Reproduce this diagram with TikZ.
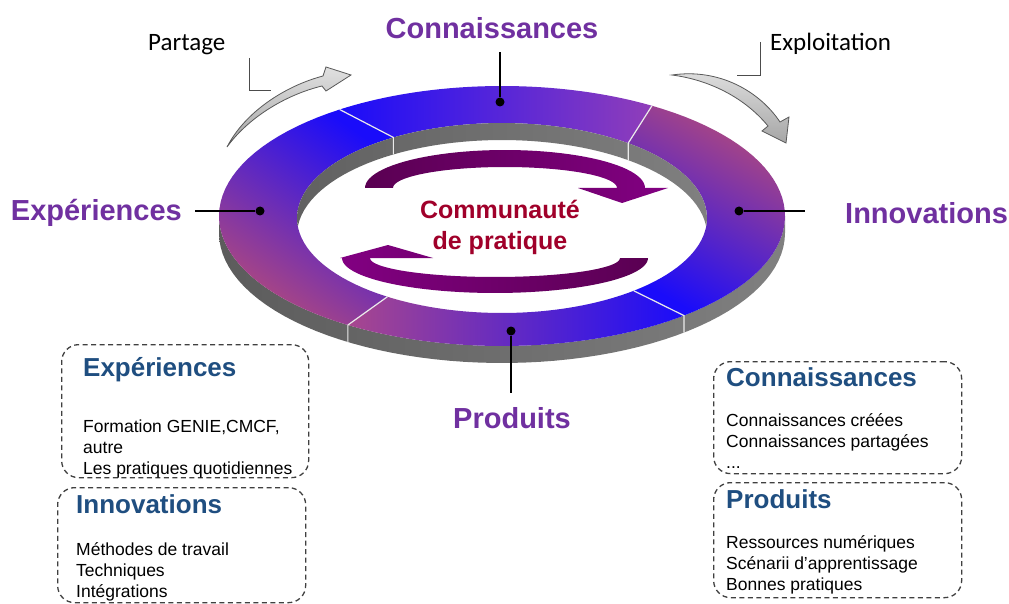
\documentclass[tikz,border=0pt]{standalone}
\usepackage{fontspec}
\setmainfont{Liberation Sans}
\newfontfamily\calibri{Carlito}
\usetikzlibrary{positioning}

\definecolor{labelpurple}{HTML}{7030A0}
\definecolor{boxblue}{HTML}{1F4E80}
\definecolor{centrered}{HTML}{A0002A}
\definecolor{ringblue}{HTML}{1A0CFA}
\definecolor{ringmauve}{HTML}{B24A7C}
\definecolor{ringviolet}{HTML}{8A3CC4}
\definecolor{arrowdark}{HTML}{5A0052}
\definecolor{arrowlight}{HTML}{820082}

% ring geometry (px, y down)
\def\rcx{502} \def\ocy{216} \def\icy{218}
\def\rxo{283} \def\ryo{130}
\def\rxi{205} \def\ryi{95}
\def\rdp{17}

% one segment of the ring top: outer arc #1->#2, inner arc back #4->#3
\newcommand\ringseg[4]{plot[domain=#1:#2, samples=40] ({\rcx+\rxo*cos(\x)},{\ocy-\ryo*sin(\x)})
  -- plot[domain=#4:#3, samples=40] ({\rcx+\rxi*cos(\x)},{\icy-\ryi*sin(\x)}) -- cycle}

\begin{document}
\begin{tikzpicture}[x=1pt, y=-1pt,
    ringlabel/.style={text=labelpurple, font=\fontsize{29}{34}\selectfont\bfseries, inner sep=0pt},
    flowlabel/.style={font=\calibri\fontsize{25}{30}\selectfont, inner sep=0pt, anchor=base west},
    boxhead/.style={text=boxblue, font=\fontsize{26}{31}\selectfont\bfseries, inner sep=0pt, anchor=base west},
    boxbody/.style={font=\fontsize{17.5}{21}\selectfont, align=left, inner sep=0pt, anchor=north west},
    dashbox/.style={draw=black!75, line width=1.3pt, dash pattern=on 5pt off 3.5pt,
      rounded corners=17pt, anchor=north west, inner sep=0pt},
    ringdot/.style={circle, fill=black, inner sep=0pt, minimum size=9pt},
    leader/.style={line width=1.6pt},
    elbow/.style={line width=1pt, draw=black!70},
    blockarrow/.style={top color=black!12, bottom color=black!35, draw=black!65, line width=0.8pt},
    seam/.style={draw=white!92!black, line width=1.2pt}
]
    \useasboundingbox (0,0) rectangle (1009,604);
    \fill[white] (0,0) rectangle (1009,604);

    % Ring: outer wall
    \shade[left color=black!64, right color=black!50]
      plot[domain=180:360, samples=60] ({\rcx+\rxo*cos(\x)},{\ocy-\ryo*sin(\x)})
      -- plot[domain=360:180, samples=60] ({\rcx+\rxo*cos(\x)},{\ocy+\rdp-\ryo*sin(\x)}) -- cycle;

    % Ring: top, four segments
    \shade[top color=ringmauve, bottom color=ringblue, shading angle=-30] \ringseg{-50}{58}{-50}{52};
    \shade[left color=ringblue, right color=ringviolet!85!ringmauve] \ringseg{58}{125}{52}{122};
    \shade[top color=ringblue, bottom color=ringmauve, shading angle=-35] \ringseg{125}{237}{122}{236};
    \shade[left color=ringmauve!75!ringviolet, right color=ringblue] \ringseg{237}{310}{236}{310};

    % Ring: inner wall seen through the hole
    \begin{scope}
      \clip plot[domain=0:360, samples=90] ({\rcx+\rxi*cos(\x)},{\icy-\ryi*sin(\x)}) -- cycle;
      \shade[left color=black!62, right color=black!50]
        plot[domain=0:180, samples=60] ({\rcx+\rxi*cos(\x)},{\icy-\ryi*sin(\x)})
        -- plot[domain=180:0, samples=60] ({\rcx+\rxi*cos(\x)},{\icy+\rdp-\ryi*sin(\x)}) -- cycle;
    \end{scope}

    % Seams between segments
    \coordinate (ulo) at ({\rcx+\rxo*cos(125)},{\ocy-\ryo*sin(125)});
    \coordinate (uli) at ({\rcx+\rxi*cos(122)},{\icy-\ryi*sin(122)});
    \coordinate (uro) at ({\rcx+\rxo*cos(58)},{\ocy-\ryo*sin(58)});
    \coordinate (uri) at ({\rcx+\rxi*cos(52)},{\icy-\ryi*sin(52)});
    \coordinate (llo) at ({\rcx+\rxo*cos(237)},{\ocy-\ryo*sin(237)});
    \coordinate (lli) at ({\rcx+\rxi*cos(236)},{\icy-\ryi*sin(236)});
    \coordinate (lro) at ({\rcx+\rxo*cos(310)},{\ocy-\ryo*sin(310)});
    \coordinate (lri) at ({\rcx+\rxi*cos(310)},{\icy-\ryi*sin(310)});
    \draw[seam] (ulo) -- (uli) -- ++(0,\rdp);
    \draw[seam] (uro) -- (uri) -- ++(0,\rdp);
    \draw[seam] (lli) -- (llo) -- ++(0,\rdp);
    \draw[seam] (lri) -- (lro) -- ++(0,\rdp);

    % Cycle arrows in the middle
    \shade[left color=arrowdark, right color=arrowlight]
      plot[domain=180:0, samples=50] ({505+140*cos(\x)},{188-38*sin(\x)})
      -- (668,188) -- (622,203) -- (578,188)
      -- plot[domain=0:180, samples=50] ({505+112*cos(\x)},{188-21*sin(\x)}) -- cycle;
    \shade[left color=arrowlight, right color=arrowdark]
      plot[domain=0:-180, samples=50] ({495+153*cos(\x)},{258-35*sin(\x)})
      -- (340,258) -- (388,245) -- (433,258)
      -- plot[domain=-180:0, samples=50] ({495+125*cos(\x)},{258-19*sin(\x)}) -- cycle;
    \node[text=centrered, font=\fontsize{25}{31}\selectfont\bfseries, align=center, inner sep=0pt]
      (cop) at (500,227) {Communauté\\de pratique};

    % Dots and labels
    \node[ringdot] (dotC) at (500,102) {};
    \node[ringdot] (dotE) at (260,211) {};
    \node[ringdot] (dotI) at (739,211) {};
    \node[ringdot] (dotP) at (511,331) {};
    \coordinate (endC) at (500,52);
    \coordinate (endE) at (195,211);
    \coordinate (endI) at (805,211);
    \coordinate (endP) at (511,393);
    \draw[leader] (dotC) -- (endC);
    \draw[leader] (dotE) -- (endE);
    \draw[leader] (dotI) -- (endI);
    \draw[leader] (dotP) -- (endP);
    \node[ringlabel, anchor=base] (lblC) at (492,39) {Connaissances};
    \node[ringlabel, anchor=base east] (lblE) at (182,221) {Expériences};
    \node[ringlabel, anchor=base west] (lblI) at (845,223) {Innovations};
    \node[ringlabel, anchor=base] (lblP) at (512,428) {Produits};

    % Partage / Exploitation
    \draw[blockarrow] (227,147) .. controls (245,112) and (285,86) .. (323,76)
      -- (326,67) -- (351,75) -- (326,91) -- (322,86)
      .. controls (285,95) and (248,118) .. (227,147) -- cycle;
    \draw[blockarrow] (672,75) .. controls (720,68) and (760,92) .. (780,122)
      -- (789,117) -- (786,143) -- (762,131) -- (768,126)
      .. controls (745,98) and (710,80) .. (672,75) -- cycle;
    \node[flowlabel] (lblPart) at (148,51) {Partage};
    \node[flowlabel] (lblExp) at (770,51) {Exploitation};
    \coordinate (partA) at (249,58);
    \coordinate (partB) at (271,91);
    \coordinate (expA) at (760,42);
    \coordinate (expB) at (737,76);
    \draw[elbow] (partA) |- (partB);
    \draw[elbow] (expA) |- (expB);

    % Boxes
    \node[dashbox, minimum width=247pt, minimum height=133pt] (boxE) at (61,344) {};
    \node[dashbox, minimum width=248pt, minimum height=115pt] (boxI) at (57,487) {};
    \node[dashbox, minimum width=248pt, minimum height=112pt] (boxC) at (713,361) {};
    \node[dashbox, minimum width=248pt, minimum height=115pt] (boxP) at (713,482) {};
    \node[boxhead] (headE) at (83,376) {Expériences};
    \node[boxhead] (headI) at (76,513) {Innovations};
    \node[boxhead] (headC) at (726,386) {Connaissances};
    \node[boxhead] (headP) at (726,508) {Produits};
    \node[boxbody] (bodyE) at (83,419.5) {Formation GENIE,CMCF,\\autre\\Les pratiques quotidiennes};
    \node[boxbody] (bodyI) at (76,542.5) {Méthodes de travail\\Techniques\\Intégrations};
    \node[boxbody] (bodyC) at (726,413.5) {Connaissances créées\\Connaissances partagées\\...};
    \node[boxbody] (bodyP) at (726,535.5) {Ressources numériques\\Scénarii d’apprentissage\\Bonnes pratiques};
\end{tikzpicture}
\end{document}
